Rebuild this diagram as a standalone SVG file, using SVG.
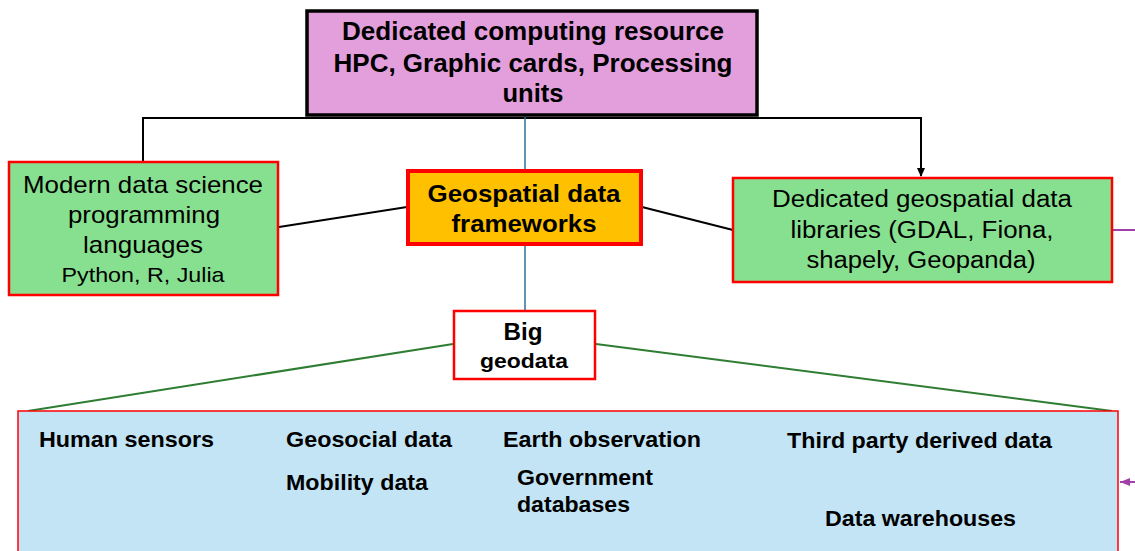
<svg xmlns="http://www.w3.org/2000/svg" width="1135" height="551" viewBox="0 0 1135 551">
<defs>
<style>
text{font-family:"Liberation Sans",Arial,sans-serif;fill:#000}
.b{font-weight:bold}
.c{text-anchor:middle}
.g{fill:#87E08F;stroke:#FF0000;stroke-width:2.5}
.bt{font-size:22px;font-weight:bold}
</style>
<marker id="ab" markerWidth="10" markerHeight="10" refX="8" refY="5" orient="auto" markerUnits="userSpaceOnUse"><path d="M0,1 L9,5 L0,9 Z" fill="#000"/></marker>
<marker id="ap" markerWidth="12" markerHeight="10" refX="10" refY="5" orient="auto" markerUnits="userSpaceOnUse"><path d="M0,1 L10,5 L0,9 Z" fill="#A040A8"/></marker>
</defs>
<rect width="1135" height="551" fill="#fff"/>
<g id="connectors" fill="none">
<path d="M143,162 V118 H921 V176" stroke="#000" stroke-width="2" marker-end="url(#ab)"/>
<line x1="525" y1="115" x2="525" y2="170" stroke="#2F6F9A" stroke-width="1.5"/>
<line x1="525" y1="245" x2="525" y2="310" stroke="#2F6F9A" stroke-width="1.5"/>
<line x1="279" y1="227" x2="407" y2="207" stroke="#000" stroke-width="2"/>
<line x1="642" y1="207" x2="733" y2="230" stroke="#000" stroke-width="2"/>
<line x1="453" y1="344" x2="28" y2="411" stroke="#2E7D32" stroke-width="2"/>
<line x1="596" y1="344" x2="1112" y2="411" stroke="#2E7D32" stroke-width="2"/>
<line x1="1112" y1="230" x2="1135" y2="230" stroke="#A040A8" stroke-width="2"/>
<line x1="1135" y1="482" x2="1120" y2="482" stroke="#A040A8" stroke-width="2" marker-end="url(#ap)"/>
</g>
<g id="node-top">
<rect x="307" y="11" width="450" height="104" fill="#E39FDB" stroke="#000" stroke-width="3.5"/>
<text class="b c" x="533" y="40" font-size="25" textLength="382" lengthAdjust="spacingAndGlyphs">Dedicated computing resource</text>
<text class="b c" x="533" y="72" font-size="25" textLength="399" lengthAdjust="spacingAndGlyphs">HPC, Graphic cards, Processing</text>
<text class="b c" x="533" y="102" font-size="25" textLength="61" lengthAdjust="spacingAndGlyphs">units</text>
</g>
<g id="node-left">
<rect class="g" x="9" y="162" width="269" height="133"/>
<text class="c" x="143" y="193" font-size="24" textLength="240" lengthAdjust="spacingAndGlyphs">Modern data science</text>
<text class="c" x="144" y="223" font-size="24" textLength="152" lengthAdjust="spacingAndGlyphs">programming</text>
<text class="c" x="143" y="253" font-size="24" textLength="120" lengthAdjust="spacingAndGlyphs">languages</text>
<text class="c" x="143" y="282" font-size="21" textLength="163" lengthAdjust="spacingAndGlyphs">Python, R, Julia</text>
</g>
<g id="node-center">
<rect x="408" y="171" width="233" height="73" fill="#FFC000" stroke="#FF0000" stroke-width="4"/>
<text class="b c" x="524" y="202" font-size="24" textLength="193" lengthAdjust="spacingAndGlyphs">Geospatial data</text>
<text class="b c" x="524" y="232" font-size="24" textLength="145" lengthAdjust="spacingAndGlyphs">frameworks</text>
</g>
<g id="node-right">
<rect class="g" x="733" y="178" width="379" height="104"/>
<text class="c" x="922" y="207" font-size="23" textLength="300" lengthAdjust="spacingAndGlyphs">Dedicated geospatial data</text>
<text class="c" x="922" y="238" font-size="23" textLength="263" lengthAdjust="spacingAndGlyphs">libraries (GDAL, Fiona,</text>
<text class="c" x="921" y="268" font-size="23" textLength="229" lengthAdjust="spacingAndGlyphs">shapely, Geopanda)</text>
</g>
<g id="node-big">
<rect x="454" y="311" width="141" height="68" fill="#fff" stroke="#FF0000" stroke-width="2.5"/>
<text class="b c" x="523" y="340" font-size="24" textLength="39" lengthAdjust="spacingAndGlyphs">Big</text>
<text class="b c" x="524" y="368" font-size="21" textLength="88" lengthAdjust="spacingAndGlyphs">geodata</text>
</g>
<g id="node-sources">
<rect x="18" y="411" width="1100" height="145" fill="#C2E4F4" stroke="#FF0000" stroke-width="1.5"/>
<text class="bt" x="39" y="447" textLength="175" lengthAdjust="spacingAndGlyphs">Human sensors</text>
<text class="bt" x="286" y="447" textLength="166" lengthAdjust="spacingAndGlyphs">Geosocial data</text>
<text class="bt" x="286" y="490" textLength="142" lengthAdjust="spacingAndGlyphs">Mobility data</text>
<text class="bt" x="503" y="447" textLength="198" lengthAdjust="spacingAndGlyphs">Earth observation</text>
<text class="bt" x="517" y="485" textLength="136" lengthAdjust="spacingAndGlyphs">Government</text>
<text class="bt" x="517" y="512" textLength="113" lengthAdjust="spacingAndGlyphs">databases</text>
<text class="bt" x="787" y="448" textLength="265" lengthAdjust="spacingAndGlyphs">Third party derived data</text>
<text class="bt" x="825" y="526" textLength="191" lengthAdjust="spacingAndGlyphs">Data warehouses</text>
</g>
</svg>
